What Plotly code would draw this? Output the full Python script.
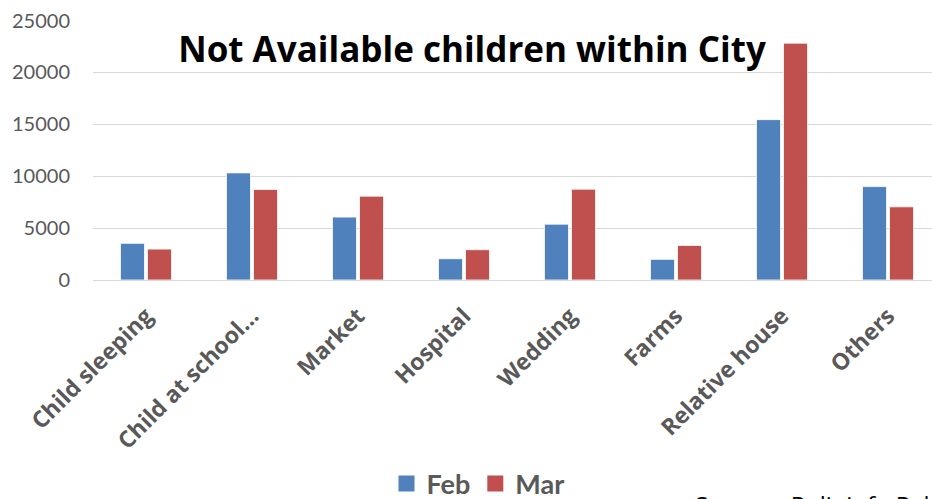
import plotly.graph_objects as go

categories = ["Child sleeping", "Child at school…", "Market", "Hospital", "Wedding", "Farms", "Relative house", "Others"]
feb = [3530, 10320, 6060, 2050, 5380, 1990, 15450, 9000]
mar = [2980, 8720, 8080, 2920, 8750, 3330, 22820, 7050]
series_names = ["Feb", "Mar"]
series_colors = ["#4F81BD", "#C0504D"]
y_ticks = [0, 5000, 10000, 15000, 20000, 25000]

W, H = 932, 499
PL, PB = 93, 219
fig = go.Figure()
for name, vals, col in zip(series_names, [feb, mar], series_colors):
    fig.add_trace(go.Bar(name=name, x=categories, y=vals, showlegend=False, legendgroup=name,
                         marker=dict(color=col, line=dict(color="#ffffff", width=0.8))))
for name, col in zip(series_names, series_colors):
    fig.add_trace(go.Scatter(name=name, x=[None], y=[None], mode="markers", legendgroup=name,
                             marker=dict(symbol="square", size=17, color=col)))

fig.update_layout(
    width=W, height=H,
    margin=dict(l=PL, r=0, t=20, b=PB, autoexpand=False),
    paper_bgcolor="white", plot_bgcolor="white",
    barmode="group", bargap=0.49, bargroupgap=0.11,
    font=dict(family="Lato", color="#595959"),
    title=dict(text="<b>Not Available children within City</b>",
               font=dict(family="Open Sans", size=35, color="#000000"),
               xref="container", yref="container",
               x=472 / W, y=1 - 50 / H, xanchor="center", yanchor="middle"),
    legend=dict(orientation="h", x=478 / W, xref="container", xanchor="center",
                yref="container", y=1 - 484 / H, yanchor="middle",
                font=dict(size=27, color="#595959", family="Lato", weight="bold"),
                itemwidth=30, traceorder="normal", bgcolor="rgba(0,0,0,0)"),
    showlegend=True,
)
fig.update_xaxes(
    range=[-0.5, 7.415], tickangle=-45, showgrid=False, showline=False,
    tickfont=dict(size=23, family="Open Sans", color="#595959", weight="bold"),
    ticks="", ticklabelstandoff=17, fixedrange=True,
)
fig.update_yaxes(
    range=[0, 25050], tickvals=y_ticks, ticktext=[str(v) for v in y_ticks],
    showgrid=True, gridcolor="#D9D9D9", gridwidth=1.3,
    zeroline=True, zerolinecolor="#D9D9D9", zerolinewidth=1.3,
    showline=False, ticks="", ticklabelstandoff=22,
    tickfont=dict(size=20, family="Lato", color="#595959"), fixedrange=True,
)
fig.add_annotation(text="Source : Polioinfo Pakistan", xref="paper", yref="paper",
                   x=(693 - PL) / (W - PL), y=0, xanchor="left", yanchor="top",
                   showarrow=False, font=dict(size=24, family="Open Sans", color="#000000"),
                   yshift=-(486 - 280))
fig.write_html("out.html", config={"displayModeBar": False},
               post_script="document.body.style.margin='0px';")
